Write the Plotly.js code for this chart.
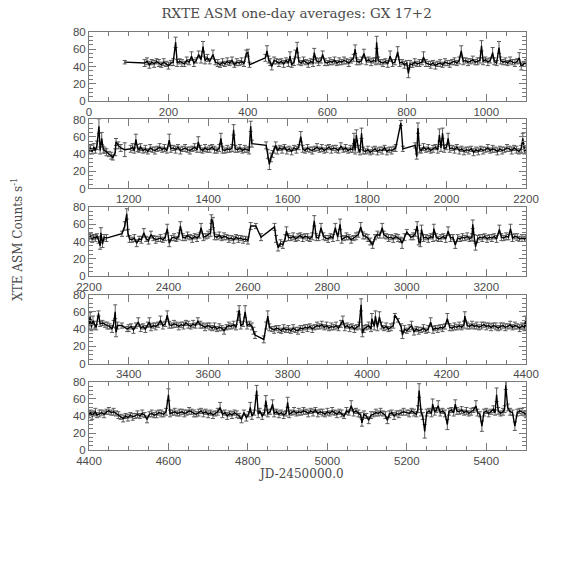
<!DOCTYPE html>
<html>
<head>
<meta charset="utf-8">
<script src="https://cdn.plot.ly/plotly-3.0.1.min.js"></script>
<style>html,body{margin:0;padding:0;background:#fff;}#plot{width:574px;height:574px;}</style>
</head>
<body>
<div id="plot"></div>
<script>
// [day (JD-2450000), ASM rate (counts/s), error]
const obs1 = [[90,45,2],[140,44,4],[146,46,4],[152,42,4],[158,45,3],[164,43,4],[170,46,3],[176,44,4],[182,42,3],[188,45,4],[194,43,3],[200,41,4],[206,44,3],[212,45,4],[218,68,6],[222,44,4],[228,46,3],[234,44,4],[240,43,3],[246,47,4],[252,45,3],[258,52,5],[264,44,4],[270,47,3],[276,54,4],[282,48,4],[287,63,6],[292,47,4],[298,50,4],[304,46,3],[312,54,5],[318,45,3],[324,44,4],[330,42,3],[336,45,4],[342,43,3],[348,46,4],[354,44,3],[360,47,4],[366,42,3],[372,45,4],[378,44,3],[384,46,4],[390,43,3],[396,55,4],[400,56,4],[404,42,3],[444,50,4],[448,58,6],[452,48,4],[456,45,4],[460,40,4],[466,47,4],[472,46,3],[478,44,4],[484,46,3],[490,43,4],[496,47,3],[502,44,4],[506,52,5],[510,42,3],[516,45,4],[520,55,4],[524,62,6],[528,46,4],[534,44,3],[540,47,4],[546,45,3],[552,43,4],[558,46,3],[564,44,4],[567,56,5],[572,47,3],[578,45,4],[584,47,3],[588,54,4],[594,45,4],[600,44,3],[606,46,4],[612,45,3],[618,47,4],[624,44,3],[630,46,4],[636,45,3],[642,47,4],[648,46,3],[654,44,4],[660,47,3],[666,50,4],[670,60,5],[674,46,4],[680,45,3],[686,47,4],[692,55,5],[698,46,4],[704,48,3],[710,45,4],[716,47,3],[722,46,4],[724,68,7],[728,47,4],[734,45,3],[740,44,4],[746,46,3],[752,43,4],[758,52,6],[764,44,4],[770,45,3],[777,57,6],[782,44,4],[788,45,3],[794,42,4],[800,44,3],[804,32,5],[808,43,4],[814,42,3],[820,45,4],[826,43,3],[832,44,4],[838,45,3],[842,51,6],[848,44,4],[854,43,3],[860,42,4],[866,44,3],[872,41,4],[878,43,3],[884,44,4],[890,42,3],[896,45,4],[902,44,3],[908,43,4],[914,45,3],[920,46,4],[926,44,3],[932,47,4],[937,58,6],[942,46,4],[948,47,3],[954,45,4],[960,46,3],[966,48,4],[972,45,3],[978,46,4],[984,47,3],[988,64,6],[992,46,4],[998,48,3],[1004,45,4],[1010,47,3],[1016,56,6],[1020,46,4],[1026,44,3],[1032,62,7],[1036,47,4],[1042,45,3],[1048,46,4],[1054,44,3],[1060,47,4],[1066,45,3],[1072,44,4],[1078,46,3],[1083,50,6],[1088,40,4],[1094,43,3],[1100,44,4]];
const obs2 = [[1100,44,4],[1104,47,4],[1108,43,3],[1112,48,4],[1116,44,3],[1120,50,5],[1125,72,8],[1128,44,4],[1132,58,7],[1136,45,4],[1140,44,3],[1144,42,4],[1150,40,3],[1156,38,4],[1160,36,3],[1166,42,4],[1168,54,4],[1174,50,4],[1180,47,4],[1190,45,8],[1205,46,4],[1210,48,4],[1214,44,3],[1218,57,6],[1222,47,4],[1226,45,3],[1230,48,4],[1236,44,3],[1242,46,4],[1248,43,3],[1254,47,4],[1260,45,3],[1266,44,4],[1272,46,3],[1278,48,4],[1284,45,3],[1290,47,4],[1296,44,3],[1302,56,7],[1306,46,4],[1312,47,3],[1318,45,4],[1324,48,3],[1330,44,4],[1336,46,3],[1342,47,4],[1348,45,3],[1354,44,4],[1360,46,3],[1366,48,4],[1372,45,3],[1375,54,6],[1380,46,4],[1386,44,3],[1392,47,4],[1398,45,3],[1404,46,4],[1410,48,3],[1416,45,4],[1422,44,3],[1428,47,4],[1432,58,6],[1436,45,4],[1442,44,3],[1448,46,4],[1454,45,3],[1460,47,4],[1464,68,6],[1468,46,4],[1474,45,3],[1480,47,4],[1486,44,3],[1492,46,4],[1498,45,3],[1503,44,4],[1507,72,6],[1510,52,4],[1546,50,4],[1550,40,5],[1554,28,6],[1558,36,5],[1562,40,4],[1566,45,4],[1570,50,4],[1574,44,4],[1580,47,3],[1586,45,4],[1592,48,3],[1598,44,4],[1604,46,3],[1610,43,4],[1616,47,3],[1622,45,4],[1628,48,3],[1633,60,6],[1638,46,4],[1644,44,3],[1650,47,4],[1656,45,3],[1662,44,4],[1668,46,3],[1674,48,4],[1680,45,3],[1686,47,4],[1692,44,3],[1698,46,4],[1704,48,3],[1710,45,4],[1716,47,3],[1722,46,4],[1728,44,3],[1734,49,4],[1740,45,3],[1746,47,4],[1752,44,3],[1758,46,4],[1764,45,3],[1767,58,6],[1770,44,4],[1773,62,6],[1778,46,4],[1782,42,3],[1786,64,6],[1790,44,4],[1796,43,3],[1802,45,4],[1808,42,3],[1814,44,4],[1820,46,3],[1826,43,4],[1832,45,3],[1838,44,4],[1844,47,3],[1850,43,4],[1856,45,3],[1862,44,4],[1868,46,3],[1872,47,4],[1885,76,3],[1890,46,3],[1921,50,3],[1925,37,3],[1928,70,6],[1932,46,4],[1936,44,3],[1942,48,4],[1948,45,3],[1954,47,4],[1960,44,3],[1966,46,4],[1972,48,3],[1978,45,4],[1982,62,7],[1986,47,4],[1990,64,6],[1994,46,4],[2000,48,3],[2004,58,6],[2008,46,4],[2014,47,3],[2020,45,4],[2026,48,3],[2032,44,4],[2038,46,3],[2044,43,4],[2050,45,3],[2056,44,4],[2062,46,3],[2068,42,4],[2074,45,3],[2080,43,4],[2086,46,3],[2092,44,4],[2098,45,3],[2104,47,4],[2110,44,3],[2116,46,4],[2122,45,3],[2128,43,4],[2134,46,3],[2140,44,4],[2146,45,3],[2152,47,4],[2158,46,3],[2164,44,4],[2170,47,3],[2176,45,4],[2182,43,3],[2188,46,4],[2192,58,6],[2196,44,4],[2200,45,3]];
const obs3 = [[2200,44,4],[2204,46,3],[2208,43,4],[2212,45,3],[2216,44,4],[2220,46,3],[2224,42,4],[2228,35,4],[2230,50,6],[2234,37,4],[2238,45,3],[2244,44,4],[2283,49,3],[2290,58,5],[2295,72,6],[2298,50,4],[2302,43,4],[2308,42,3],[2314,44,4],[2320,38,4],[2326,43,3],[2332,42,4],[2338,50,5],[2344,43,3],[2350,41,4],[2356,48,4],[2362,44,3],[2368,42,4],[2374,43,3],[2380,44,4],[2386,42,3],[2392,45,4],[2397,55,5],[2402,38,4],[2408,44,3],[2414,45,4],[2420,43,3],[2426,46,4],[2430,58,5],[2436,45,4],[2442,44,3],[2448,47,4],[2454,45,3],[2460,43,4],[2466,46,3],[2472,44,4],[2478,47,3],[2482,56,5],[2488,45,4],[2494,46,3],[2500,48,4],[2506,50,4],[2508,66,5],[2512,62,6],[2516,46,4],[2522,45,3],[2528,47,4],[2534,44,3],[2540,46,4],[2546,45,3],[2552,43,4],[2558,44,3],[2564,42,4],[2570,45,3],[2576,43,4],[2582,44,3],[2588,42,4],[2594,43,3],[2600,41,4],[2607,58,4],[2620,58,3],[2633,45,4],[2667,57,4],[2671,43,4],[2676,33,4],[2682,38,4],[2688,36,4],[2694,44,4],[2697,52,5],[2702,45,4],[2708,44,3],[2714,46,4],[2720,43,3],[2726,45,4],[2732,47,3],[2738,44,4],[2744,46,3],[2750,45,4],[2756,43,3],[2762,46,4],[2767,64,6],[2772,45,4],[2778,44,3],[2784,56,5],[2790,46,4],[2796,44,3],[2802,43,4],[2808,46,3],[2814,44,4],[2820,56,5],[2826,45,4],[2832,60,6],[2836,42,4],[2842,44,3],[2848,46,4],[2854,45,3],[2860,42,4],[2866,44,3],[2872,46,4],[2878,48,3],[2884,57,5],[2890,47,4],[2896,46,3],[2902,44,4],[2908,40,4],[2914,36,4],[2920,45,3],[2926,48,4],[2932,47,3],[2938,56,5],[2942,48,4],[2948,46,3],[2954,44,4],[2960,45,3],[2966,43,4],[2972,46,3],[2978,44,4],[2984,42,3],[2988,38,6],[2994,45,4],[3000,51,3],[3010,45,3],[3016,46,4],[3022,50,4],[3026,58,5],[3030,40,4],[3034,38,4],[3037,54,5],[3042,44,4],[3048,45,3],[3054,43,4],[3060,46,3],[3066,44,4],[3068,55,5],[3074,45,4],[3080,43,3],[3086,44,4],[3092,46,3],[3098,43,4],[3104,52,5],[3110,44,4],[3116,45,3],[3122,36,4],[3128,44,4],[3134,43,3],[3140,45,4],[3146,44,3],[3152,46,4],[3158,43,3],[3164,45,4],[3166,60,5],[3170,44,4],[3173,34,4],[3178,43,4],[3184,45,3],[3190,44,4],[3196,46,3],[3202,43,4],[3208,45,3],[3214,44,4],[3220,46,3],[3226,43,4],[3233,54,5],[3238,45,4],[3244,44,3],[3250,46,4],[3256,45,3],[3261,55,5],[3266,44,4],[3272,46,3],[3278,45,4],[3284,43,3],[3290,44,4],[3296,43,3],[3300,44,4]];
const obs4 = [[3300,44,4],[3303,55,4],[3306,42,4],[3310,50,5],[3314,45,4],[3318,42,3],[3324,58,3],[3328,46,3],[3334,47,3],[3340,45,3],[3346,44,4],[3352,43,3],[3358,40,4],[3362,46,4],[3366,60,8],[3368,36,5],[3372,44,4],[3383,44,3],[3396,40,3],[3400,41,4],[3406,43,3],[3412,39,4],[3418,44,3],[3424,48,5],[3430,41,4],[3436,43,3],[3442,40,4],[3448,45,3],[3452,48,5],[3456,42,4],[3462,44,3],[3468,43,4],[3474,45,3],[3480,50,5],[3486,44,4],[3492,46,3],[3497,56,5],[3502,45,4],[3508,44,3],[3514,46,4],[3520,45,3],[3526,43,4],[3532,45,3],[3538,44,4],[3544,47,3],[3550,45,4],[3556,43,3],[3562,46,4],[3568,44,3],[3574,49,4],[3580,45,4],[3586,44,3],[3592,42,4],[3598,44,3],[3604,43,4],[3610,41,3],[3616,43,4],[3622,40,3],[3628,42,4],[3634,41,3],[3640,38,4],[3646,42,3],[3652,44,4],[3658,43,3],[3664,45,4],[3670,42,3],[3676,55,5],[3678,62,5],[3682,44,4],[3688,46,3],[3693,60,7],[3698,44,4],[3704,46,3],[3710,43,4],[3714,38,4],[3718,33,4],[3740,28,4],[3746,44,4],[3750,55,6],[3754,42,4],[3760,40,3],[3766,39,4],[3772,41,3],[3778,40,4],[3784,38,3],[3790,41,4],[3796,39,3],[3802,40,4],[3808,38,3],[3814,41,4],[3820,39,3],[3826,38,4],[3832,41,3],[3838,40,4],[3844,42,3],[3850,41,4],[3856,43,3],[3862,40,4],[3868,42,3],[3874,44,4],[3880,43,3],[3886,45,4],[3892,42,3],[3898,44,4],[3904,41,3],[3910,43,4],[3916,42,3],[3922,44,4],[3928,41,3],[3934,46,4],[3939,50,5],[3944,42,4],[3950,44,3],[3956,41,4],[3962,43,3],[3968,40,4],[3974,42,3],[3980,44,4],[3985,68,7],[3988,35,4],[3992,40,4],[3998,42,3],[4004,44,4],[4010,40,3],[4012,52,6],[4018,43,4],[4021,55,6],[4026,42,4],[4031,54,6],[4036,44,4],[4042,41,3],[4048,43,4],[4054,40,3],[4060,42,4],[4066,44,3],[4070,56,2],[4078,50,2],[4086,42,4],[4089,33,4],[4094,40,4],[4100,38,3],[4106,41,4],[4112,44,5],[4118,37,4],[4124,40,3],[4130,38,4],[4136,39,3],[4142,41,4],[4148,38,3],[4154,40,4],[4160,48,5],[4166,39,4],[4172,41,3],[4178,40,4],[4184,42,3],[4190,41,4],[4196,43,3],[4202,52,6],[4208,42,4],[4214,41,3],[4220,43,4],[4226,42,3],[4232,44,4],[4238,42,3],[4244,45,4],[4246,55,5],[4252,44,4],[4258,43,3],[4264,45,4],[4270,43,3],[4276,44,4],[4282,42,3],[4288,44,4],[4294,45,3],[4300,43,4],[4306,44,3],[4312,42,4],[4318,44,3],[4324,43,4],[4330,41,3],[4336,43,4],[4342,44,3],[4348,42,4],[4354,43,3],[4360,45,4],[4366,42,3],[4372,44,4],[4378,43,3],[4384,41,4],[4390,44,3],[4396,42,4],[4399,50,5],[4400,43,4]];
const obs5 = [[4400,42,4],[4404,44,3],[4408,40,4],[4412,43,3],[4416,45,4],[4420,41,3],[4426,43,4],[4432,44,3],[4438,42,4],[4444,45,3],[4450,46,4],[4456,44,3],[4462,45,4],[4468,43,3],[4474,41,4],[4480,39,3],[4486,37,4],[4492,40,3],[4498,38,4],[4504,41,3],[4510,39,4],[4516,40,3],[4522,42,4],[4528,40,3],[4534,43,4],[4540,41,3],[4546,36,4],[4552,42,3],[4558,43,4],[4564,41,3],[4570,42,4],[4576,44,3],[4582,43,4],[4588,42,3],[4594,45,4],[4600,65,7],[4604,43,4],[4610,44,3],[4616,45,4],[4622,43,3],[4628,44,4],[4634,45,3],[4640,43,4],[4646,44,3],[4652,46,4],[4658,45,3],[4664,43,4],[4670,42,3],[4676,44,4],[4682,46,3],[4688,43,4],[4694,45,3],[4700,42,4],[4706,44,3],[4712,41,4],[4718,43,3],[4724,45,4],[4730,50,6],[4736,42,4],[4742,44,3],[4748,40,4],[4754,43,3],[4760,41,4],[4766,44,3],[4772,42,4],[4778,40,3],[4784,36,4],[4790,44,3],[4796,38,4],[4802,42,3],[4806,50,6],[4810,40,4],[4816,44,3],[4822,70,6],[4826,42,4],[4830,46,3],[4836,40,4],[4842,44,3],[4845,58,6],[4850,43,4],[4856,45,3],[4862,54,5],[4866,43,4],[4872,45,3],[4878,42,4],[4884,44,3],[4890,41,4],[4896,43,3],[4900,56,6],[4904,42,4],[4910,44,3],[4916,46,4],[4922,43,3],[4928,45,4],[4934,44,3],[4940,46,4],[4946,45,3],[4952,43,4],[4958,46,3],[4964,44,4],[4970,47,3],[4976,43,4],[4982,45,3],[4988,44,4],[4994,42,3],[5000,45,4],[5006,43,3],[5012,46,4],[5018,44,3],[5024,42,4],[5030,45,3],[5036,43,4],[5042,40,3],[5048,46,4],[5054,44,3],[5060,52,6],[5066,44,4],[5072,46,3],[5078,43,4],[5084,41,3],[5087,32,4],[5092,42,4],[5098,40,3],[5104,35,4],[5110,41,4],[5116,42,3],[5122,44,4],[5128,43,3],[5134,45,4],[5140,43,3],[5146,41,4],[5151,35,4],[5156,42,4],[5162,44,3],[5168,40,4],[5174,43,3],[5180,42,4],[5186,44,3],[5192,45,4],[5200,44,3],[5206,43,4],[5212,46,3],[5218,44,4],[5224,42,3],[5228,48,4],[5231,70,8],[5236,44,4],[5240,40,4],[5245,22,8],[5250,44,4],[5256,46,3],[5262,43,4],[5265,54,6],[5270,45,4],[5274,47,3],[5279,52,6],[5284,44,4],[5290,46,3],[5296,43,4],[5302,30,6],[5306,45,4],[5312,47,3],[5318,44,4],[5322,54,5],[5326,46,4],[5332,45,3],[5338,47,4],[5344,44,3],[5350,46,4],[5356,43,3],[5362,45,4],[5368,47,3],[5374,52,6],[5378,44,4],[5384,42,3],[5389,28,6],[5394,44,4],[5400,46,3],[5406,43,4],[5412,45,3],[5418,48,4],[5422,44,3],[5426,65,8],[5430,46,4],[5436,43,3],[5442,45,4],[5446,48,4],[5449,76,5],[5454,50,4],[5460,45,4],[5466,44,3],[5472,28,5],[5478,44,4],[5484,46,3],[5490,45,4],[5496,43,3],[5500,42,4]];

const panelRanges = [[0,1100],[1100,2200],[2200,3300],[3300,4400],[4400,5500]];
const yTickVals = [0,20,40,60,80];
const titleText = 'RXTE ASM one-day averages: GX 17+2';
const yTitleText = 'XTE ASM Counts s<sup>-1</sup>';
const xTitleText = 'JD-2450000.0';

const allObs = [obs1, obs2, obs3, obs4, obs5];
const domains = [[0.835,1.0],[0.6256,0.7907],[0.4163,0.5813],[0.2069,0.372],[0,0.1627]];
const axisColor = '#7a7a7a';
const textColor = '#4a4a4a';
const serif = 'DejaVu Serif, Liberation Serif, serif';
const tickFont = {family:'Liberation Sans, Arial, sans-serif', size:11.5, color:textColor};

const traces = allObs.map((obs, i) => ({
  type:'scatter', mode:'lines',
  x: obs.map(o => o[0]), y: obs.map(o => o[1]),
  xaxis: i === 0 ? 'x' : 'x' + (i+1),
  yaxis: i === 0 ? 'y' : 'y' + (i+1),
  line:{color:'#000', width:1.4},
  error_y:{type:'data', array: obs.map(o => o[2]), visible:true, color:'#5a5a5a', thickness:1, width:2},
  hoverinfo:'skip', showlegend:false
}));

const layout = {
  width:574, height:574,
  margin:{l:89, r:48, t:32, b:124},
  paper_bgcolor:'#fff', plot_bgcolor:'#fff',
  showlegend:false,
  title:{text:titleText, font:{family:serif, size:13.5, color:textColor},
         x:0.475, xanchor:'center', xref:'paper', y:0.977, yanchor:'middle', yref:'container'},
  annotations:[
    {text:yTitleText, textangle:-90, xref:'paper', yref:'paper', x:-0.165, y:0.505, xanchor:'center', yanchor:'middle', showarrow:false,
     font:{family:serif, size:12, color:textColor}},
    {text:xTitleText, xref:'paper', yref:'paper', x:0.485, y:-0.057, xanchor:'center', yanchor:'middle', showarrow:false,
     font:{family:serif, size:12, color:textColor}}
  ]
};

panelRanges.forEach((r, i) => {
  const xn = i === 0 ? 'xaxis' : 'xaxis' + (i+1);
  const yn = i === 0 ? 'yaxis' : 'yaxis' + (i+1);
  layout[xn] = {
    range:r, domain:[0,1], anchor: i === 0 ? 'y' : 'y' + (i+1),
    tickmode:'linear', tick0:0, dtick:200,
    ticks:'inside', ticklen:7, tickwidth:1, tickcolor:axisColor,
    showline:true, linecolor:axisColor, linewidth:1, mirror:'allticks',
    showgrid:false, zeroline:false, tickfont:tickFont,
    minor:{ticks:'inside', ticklen:4, dtick:50, tickcolor:axisColor, showgrid:false}
  };
  layout[yn] = {
    range:[0,80], domain:domains[i], anchor: i === 0 ? 'x' : 'x' + (i+1),
    tickmode:'array', tickvals:yTickVals,
    ticks:'inside', ticklen:7, tickwidth:1, tickcolor:axisColor,
    showline:true, linecolor:axisColor, linewidth:1, mirror:'allticks',
    showgrid:false, zeroline:false, tickfont:tickFont,
    minor:{ticks:'inside', ticklen:4, dtick:5, tickcolor:axisColor, showgrid:false}
  };
});

Plotly.newPlot('plot', traces, layout, {staticPlot:true, displayModeBar:false});
</script>
</body>
</html>
